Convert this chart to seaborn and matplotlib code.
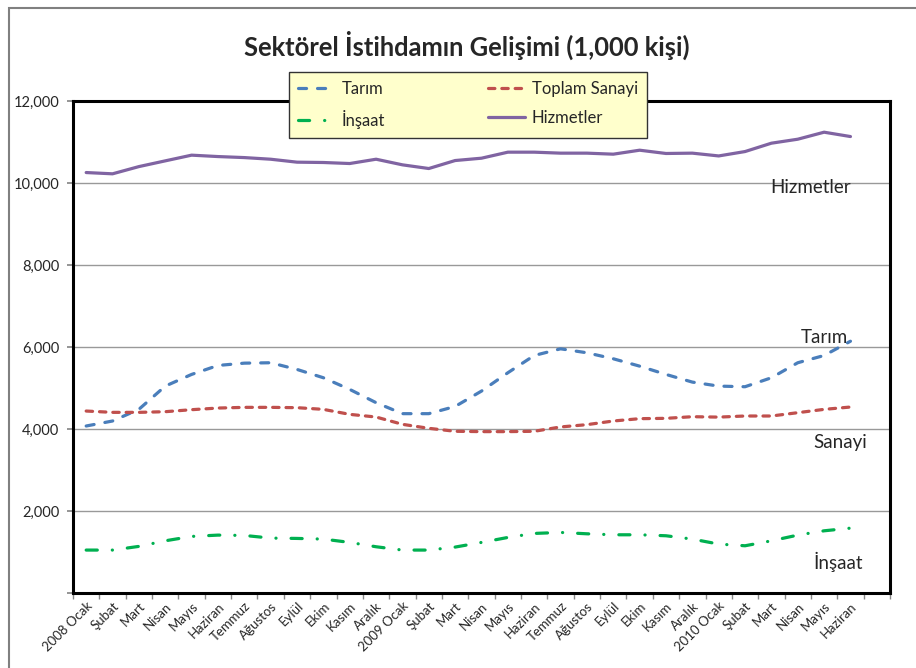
import numpy as np
import pandas as pd
import matplotlib
matplotlib.use("Agg")
import matplotlib.pyplot as plt
import matplotlib.patches as mpatches
from matplotlib.lines import Line2D
from matplotlib.ticker import FuncFormatter
import seaborn as sns

months = ["2008 Ocak", "Şubat", "Mart", "Nisan", "Mayıs", "Haziran", "Temmuz",
          "Ağustos", "Eylül", "Ekim", "Kasım", "Aralık",
          "2009 Ocak", "Şubat", "Mart", "Nisan", "Mayıs", "Haziran", "Temmuz",
          "Ağustos", "Eylül", "Ekim", "Kasım", "Aralık",
          "2010 Ocak", "Şubat", "Mart", "Nisan", "Mayıs", "Haziran"]

tarim = [4073, 4195, 4480, 5046, 5331, 5550, 5606, 5616, 5453, 5250, 4966, 4642,
         4374, 4374, 4550, 4925, 5372, 5793, 5956, 5859, 5713, 5533, 5331, 5144,
         5046, 5031, 5250, 5616, 5793, 6141]
sanayi = [4438, 4406, 4406, 4422, 4471, 4511, 4528, 4528, 4520, 4479, 4357, 4292,
          4114, 4017, 3944, 3936, 3936, 3944, 4050, 4106, 4195, 4252, 4260, 4300,
          4290, 4317, 4317, 4398, 4479, 4536]
insaat = [1047, 1047, 1137, 1273, 1380, 1412, 1404, 1339, 1331, 1315, 1234, 1128,
          1047, 1047, 1120, 1234, 1355, 1453, 1477, 1444, 1420, 1420, 1396, 1315,
          1193, 1152, 1273, 1412, 1517, 1582]
hizmetler = [10255, 10224, 10400, 10540, 10679, 10645, 10620, 10580, 10508, 10500,
             10475, 10580, 10443, 10353, 10548, 10605, 10752, 10752, 10728, 10728,
             10703, 10800, 10720, 10728, 10660, 10767, 10971, 11068, 11239, 11133]

sns.set_theme(style="white")
plt.rcParams["font.family"] = ["Lato", "DejaVu Sans"]
plt.rcParams["lines.scale_dashes"] = False

BLUE = "#4A7EBB"
RED = "#C0504D"
GREEN = "#00B050"
PURPLE = "#8064A2"

styles = {
    "Tarım":         dict(color=BLUE,   ls=(0, (5.8, 7.9)), data=tarim),
    "Toplam Sanayi": dict(color=RED,    ls=(0, (4.6, 5.0)), data=sanayi),
    "İnşaat":        dict(color=GREEN,  ls=(0, (8.0, 10.8, 0.1, 10.8)), data=insaat),
    "Hizmetler":     dict(color=PURPLE, ls="-", data=hizmetler),
}

fig = plt.figure(figsize=(9.16, 6.68), dpi=100)
ax = fig.add_axes([73 / 916, 1 - 593 / 668, (890 - 73) / 916, (593 - 101) / 668])

x = np.arange(len(months))
for name, st in styles.items():
    sns.lineplot(x=x, y=st["data"], ax=ax, color=st["color"], linestyle=st["ls"],
                 linewidth=2.3, dash_capstyle="round", solid_capstyle="round",
                 zorder=3)

ax.set_xlim(-0.5, len(months) + 0.5)
ax.set_ylim(0, 12000)
ax.set_yticks(np.arange(0, 12001, 2000))
# Excel hides the zero label
ax.yaxis.set_major_formatter(FuncFormatter(lambda v, p: f"{int(v):,}" if v > 0 else ""))
ax.grid(axis="y", color="#999999", linewidth=1)
ax.grid(axis="x", visible=False)

ax.set_xticks(x)
ax.set_xticklabels(months, rotation=45, ha="right", rotation_mode="anchor", fontsize=9.5)
ax.set_xticks(np.arange(-0.5, len(months) + 1), minor=True)
ax.tick_params(axis="x", which="major", length=0, pad=5)
ax.tick_params(axis="x", which="minor", length=4, color="#888888", direction="out", bottom=True)
ax.tick_params(axis="y", length=4, color="#888888", direction="out", left=True, labelsize=10.5, pad=6)
for s in ax.spines.values():
    s.set_color("black")
    s.set_linewidth(2.2)

labels_pos = [("Hizmetler", 27.5, 9900), ("Tarım", 28.0, 6220),
              ("Sanayi", 28.6, 3660), ("İnşaat", 28.55, 760)]
for txt, lx, ly in labels_pos:
    ax.text(lx, ly, txt, ha="center", va="center", fontsize=13.5, zorder=4)

fig.text(467 / 916, 1 - 45 / 668, "Sektörel İstihdamın Gelişimi (1,000 kişi)",
         ha="center", va="center", fontsize=18.4, fontweight="bold")

order = ["Tarım", "İnşaat", "Toplam Sanayi", "Hizmetler"]
handles = [Line2D([], [], color=styles[n]["color"], linestyle=styles[n]["ls"],
                  linewidth=2.3, dash_capstyle="round", solid_capstyle="round")
           for n in order]
leg = fig.legend(handles, order, ncol=2, loc="upper left",
                 bbox_to_anchor=(289 / 916, 1 - 72 / 668), fontsize=12,
                 frameon=True, fancybox=False, framealpha=1,
                 facecolor="#FFFFCC", edgecolor="#333333",
                 handlelength=2.2, handletextpad=0.4, columnspacing=6.2,
                 labelspacing=0.75, borderpad=0.55, borderaxespad=0)
leg.get_frame().set_linewidth(1)
leg.set_zorder(10)

border = mpatches.Rectangle((9 / 916, -0.1), 1.2, 1.1 - 8 / 668,
                            transform=fig.transFigure, fill=False,
                            edgecolor="#808080", linewidth=1.5)
fig.patches.append(border)

fig.savefig("out.png", dpi=100, facecolor="white")
